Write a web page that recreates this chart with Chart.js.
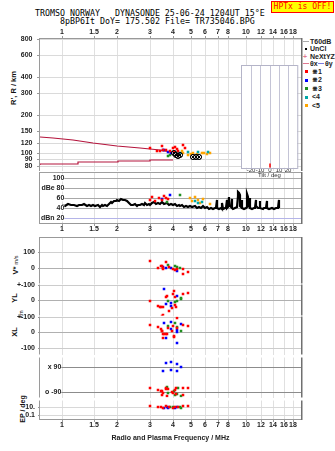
<!DOCTYPE html>
<html>
<head>
<meta charset="utf-8">
<title>TROMSO NORWAY DYNASONDE 25-06-24 1204UT</title>
<script src="https://cdn.jsdelivr.net/npm/chart.js@4.4.1/dist/chart.umd.min.js"></script>
<style>
html,body{margin:0;padding:0;background:#fff}
body{position:relative;width:335px;height:451px;overflow:hidden;font-family:"Liberation Sans",Arial,sans-serif;color:#111}
canvas{position:absolute;left:0}
.t{position:absolute;white-space:pre;line-height:1}
.mono{font-family:"DejaVu Sans Mono",monospace;font-size:8.3px;color:#000}
.rot{transform:translate(-50%,-50%) rotate(-90deg);font-weight:bold;font-size:7.5px;color:#111}
.lg{position:absolute;left:310px;height:8px;line-height:8px;font-size:7px;font-weight:bold;color:#222;white-space:pre}
.sq{position:absolute;left:305px;width:3px;height:3px}
.ln{position:absolute;height:1px}
</style>
</head>
<body>
<div class="t mono" style="left:35px;top:9px">TROMSO NORWAY   DYNASONDE 25-06-24 1204UT 15°E</div>
<div class="t mono" style="left:60px;top:16.5px">8pBP6It DoY= 175.502 File= TR735046.BPG</div>
<div class="t" style="left:271px;top:1px;width:61px;height:10px;line-height:10px;border:1px solid #ff0000;background:#ffff00;color:#ff0000;font-family:'DejaVu Sans Mono',monospace;font-size:8px;text-align:center">HPTx is OFF!</div>

<!-- legend -->
<div class="ln" style="left:303px;top:41px;width:6px;background:#aaaaaa"></div>
<div class="lg" style="top:37.5px">T60dB</div>
<div class="ln" style="left:305px;top:48px;width:1.5px;height:1.5px;background:#000"></div>
<div class="lg" style="top:45px">UnCl</div>
<div class="t" style="left:303px;top:52.5px;font-size:7px;font-weight:bold;color:#e07890">+</div>
<div class="lg" style="top:52.5px">NeXtYZ</div>
<div class="ln" style="left:303px;top:63px;width:6px;background:#e07890"></div>
<div class="lg" style="top:59.5px">θx</div>
<div class="ln" style="left:318px;top:63px;width:6px;background:#7a7ae0"></div>
<div class="lg" style="top:59.5px;left:325px">θy</div>
<div class="sq" style="top:70px;background:#ff0000"></div>
<div class="lg" style="top:67.5px;left:312px">⋇1</div>
<div class="sq" style="top:78.5px;background:#0000ff"></div>
<div class="lg" style="top:76px;left:312px">⋇2</div>
<div class="sq" style="top:87px;background:#1f8f1f"></div>
<div class="lg" style="top:84.5px;left:312px">⋇3</div>
<div class="sq" style="top:95.5px;background:#00a8a8"></div>
<div class="lg" style="top:93px;left:312px">&lt;4</div>
<div class="sq" style="top:104px;background:#ffa500"></div>
<div class="lg" style="top:101.5px;left:312px">&lt;5</div>

<!-- axis titles -->
<div class="t rot" style="left:14px;top:88px">R', R / km</div>
<div class="t rot" style="left:15.5px;top:265px">V* <span style="font-size:5.5px;font-weight:normal">m/s</span></div>
<div class="t rot" style="left:15px;top:298px">YL</div>
<div class="t rot" style="left:21.5px;top:314px;font-size:5.5px;font-weight:normal">km</div>
<div class="t rot" style="left:15px;top:332px">XL</div>
<div class="t" style="left:43px;top:376px;font-size:7px;font-weight:bold;color:#222">PP</div>
<div class="t rot" style="left:22px;top:409px;font-size:7px">EP / deg</div>

<script>
// ---- frequency axis (MHz, log) ----
const freqTicks = [1, 1.5, 2, 3, 4, 5, 6, 7, 8, 10, 12, 14, 16, 18];
const freqTickLabels = ['1', '1.5', '2', '3', '4', '5', '6', '7', '8', '10', '12', '14', '16', '18'];

// ---- virtual range panel (km) ----
const rangeTicks = [800, 600, 400, 300, 200, 150, 120, 100, 90, 80];
const rangeTickLabels = ['800', '600', '400', '300', '200', '150', '120', '100', '90', '80'];
const upperTrace = [[0.76, 134.5], [0.89, 132], [1.15, 126.5], [1.47, 120.7], [2.0, 115], [2.65, 109.6], [3.41, 105.7], [3.86, 102.4]];
const lowerTrace = [[0.76, 81.4], [1.22, 82.8], [2.02, 84.9], [3.01, 86.9], [3.54, 88], [4.0, 88]];
const rangeRed = [[3.01, 111], [3.30, 105], [3.40, 104], [3.48, 113.6], [3.55, 106], [3.67, 105.8], [3.85, 104], [4.00, 110.4], [4.05, 102], [4.11, 112.5], [4.20, 109], [4.29, 103.9], [4.53, 115.6], [4.66, 110.4]];
const rangeBlue = [[3.54, 107], [3.58, 105.6], [3.77, 102.8], [3.90, 101]];
const rangeGreen = [[3.75, 95.7], [3.85, 97]];
const rangeCyan = [[4.40, 100], [4.86, 101.5], [5.50, 101.5], [6.24, 101.5]];
const rangeOrange = [[4.47, 104.6], [4.56, 99.7], [4.86, 96.7], [5.00, 98], [5.17, 99.7], [5.40, 99], [5.75, 100.9], [5.90, 100], [6.11, 98.4], [6.37, 99.7]];
const rangeOmode = [[4.05, 101], [4.15, 97], [4.25, 95], [4.40, 97], [5.15, 94], [5.35, 93], [5.55, 94]];

// ---- amplitude panel (dB) ----
const dbTicks = [100, 80, 60, 40, 20];
const dbTickLabels = ['100', 'dBe 80', '60', '40', 'dBn 20'];
const noiseFreq = [1.00, 1.04, 1.08, 1.12, 1.16, 1.20, 1.24, 1.28, 1.32, 1.36, 1.40, 1.44, 1.48, 1.52, 1.56, 1.60, 1.64, 1.68, 1.72, 1.76, 1.80, 1.84, 1.88, 1.92, 1.96, 2.00, 2.05, 2.10, 2.15, 2.20, 2.25, 2.30, 2.36, 2.42, 2.48, 2.54, 2.60, 2.66, 2.72, 2.78, 2.84, 2.90, 2.96, 3.02, 3.10, 3.18, 3.26, 3.34, 3.42, 3.50, 3.60, 3.70, 3.80, 3.90, 4.00, 4.10, 4.20, 4.30, 4.40, 4.50, 4.62, 4.74, 4.86, 4.98, 5.10, 5.25, 5.40, 5.55, 5.70, 5.85, 6.00, 6.15, 6.30, 6.45,
  6.60, 6.80, 6.88, 6.92, 6.96, 7.10, 7.30, 7.40, 7.44, 7.48, 7.70, 7.80, 7.84, 7.88, 8.00, 8.04, 8.10, 8.20, 8.30, 8.34, 8.40, 8.55, 8.75, 8.95, 9.00, 9.08, 9.15, 9.22, 9.28, 9.40, 9.46, 9.52, 9.70, 9.95, 10.10, 10.14, 10.22, 10.28, 10.45, 10.50, 10.56, 10.80, 11.10, 11.25, 11.30, 11.36, 11.60, 11.85, 11.90, 11.96, 12.30, 12.60, 12.90, 12.95, 13.02, 13.40, 13.80, 14.20, 14.60, 14.95, 15.02, 15.08];
const noiseLevel = [47, 45, 48, 46, 47, 44, 47, 46, 48, 45, 46, 44, 47, 45, 46, 43, 46, 44, 47, 45, 48, 53, 51, 55, 54, 57, 55, 58, 56, 57, 54, 51, 47, 46, 48, 45, 47, 46, 48, 47, 50, 47, 49, 46, 50, 52, 48, 51, 49, 52, 48, 50, 47, 49, 46, 48, 45, 47, 44, 46, 43, 45, 42, 44, 42, 44, 41, 43, 41, 44, 40, 42, 39, 40,
  39, 40, 40, 57, 40, 39, 40, 39, 50, 39, 40, 41, 56, 41, 42, 62, 44, 45, 42, 58, 41, 39, 40, 42, 64, 73, 70, 66, 45, 42, 56, 41, 39, 40, 42, 69, 63, 44, 42, 61, 41, 39, 40, 41, 57, 44, 40, 41, 55, 40, 39, 40, 40, 55, 41, 39, 40, 39, 40, 41, 57, 40];
const dbRed = [[3.02, 57], [3.10, 63], [3.22, 55], [3.37, 61], [3.50, 56], [3.59, 64], [3.66, 60], [3.75, 58]];
const dbBlue = [[3.48, 59], [3.86, 66]];
const dbGreen = [[3.70, 53], [4.38, 67]];
const dbCyan = [[5.28, 54], [5.50, 51], [5.77, 53]];
const dbOrange = [[4.96, 60], [5.10, 55], [5.25, 62], [5.45, 57], [5.60, 50], [5.83, 59], [6.37, 49]];

// ---- tilt inset (deg) ----
const tiltTicks = [-20, -10, 0, 10, 20];
const tiltMark = [[0, 0.02]];

// ---- Doppler velocity V* (m/s) ----
const vTicks = [100, 0];
const vTickLabels = ['100', '0'];
const vRed = [[3.01, 41], [3.34, 0], [3.45, 14], [3.48, 10], [3.52, -5], [3.55, 0], [3.67, 37], [3.83, 4], [4.02, -10], [4.11, -12], [4.23, -9], [4.53, -10], [4.53, -42], [4.82, -27]];
const vBlue = [[3.55, 6], [3.66, -4], [3.91, 0], [4.20, -21]];
const vGreen = [[3.77, 20], [4.11, 10], [4.20, 4], [4.38, -4]];

// ---- echo location YL (km) ----
const ylTicks = [100, 0];
const ylTickLabels = ['+-100', '0'];
const ylRed = [[3.01, -4], [3.34, -36], [3.40, -42], [3.44, -42], [3.50, -100], [3.52, -94], [3.66, 17], [3.70, 25], [3.82, -73], [3.94, -52], [4.02, 38], [4.06, 56], [4.11, 21], [4.11, -31], [4.16, -48], [4.53, 36], [4.82, 46], [3.52, -42]];
const ylBlue = [[3.59, 69], [3.66, -27], [3.91, -17], [3.91, -37], [4.20, 25]];
const ylGreen = [[3.77, -6], [4.11, -11], [4.20, -6], [4.41, 15], [4.41, 4]];

// ---- echo location XL (km) ----
const xlTicks = [100, 0, -100];
const xlTickLabels = ['+-100', '0', '-100'];
const xlRed = [[3.01, 45], [3.34, 31], [3.45, 19], [3.48, 8], [3.55, -14], [3.66, -11], [3.52, -36], [4.23, 90], [4.53, 44], [4.82, 40], [4.02, 40], [4.20, 27], [3.48, 10], [3.94, 6], [3.59, -12], [3.70, -12], [4.06, -23], [4.06, -29], [3.77, 23]];
const xlBlue = [[3.59, 58], [3.91, 65], [4.41, 52], [3.91, 19], [4.20, 12], [4.20, -2], [3.66, -36], [4.20, -69]];
const xlGreen = [[3.77, 37], [4.11, 58], [4.20, 33], [4.41, 6]];

// ---- polarization PP (deg) ----
const ppTicks = [90, -90];
const ppTickLabels = ['x 90', 'o -90'];
const ppBlue = [[3.67, 118], [3.55, 60], [3.91, 124], [4.20, 109], [4.41, 85], [4.20, 60], [3.91, 66]];
const ppRed = [[3.01, -62], [3.34, -79], [3.45, -86], [3.55, -97], [3.66, -64], [3.77, -73], [3.50, -115], [3.68, -69], [3.48, -86], [3.70, -122], [3.94, -90], [4.16, -62], [4.11, -79], [4.02, -101], [4.16, -111], [4.53, -62], [4.82, -64], [4.53, -118]];
const ppGreen = [[3.74, -57], [3.77, -101], [4.29, -62], [4.06, -86], [4.11, -118], [4.20, -111], [4.41, -122]];

// ---- EP (deg, log) ----
const epTicks = [10, 0.1];
const epTickLabels = ['10.', '0.1'];
const epRed = [[3.01, 17], [3.34, 12], [3.45, 8], [3.55, 6], [3.66, 14], [3.83, 10], [4.02, 7], [4.11, 12], [4.29, 9], [4.53, 16], [4.82, 17]];
const epBlue = [[3.60, 7], [3.70, 9], [3.77, 6], [4.20, 8], [4.11, 5]];
const epGreen = [[3.85, 10], [4.00, 8], [4.35, 9], [4.45, 6]];

// ---------------------------------------------------------------
const RED = '#ff0000', BLUE = '#0000ff', GREEN = '#1f8f1f', CYAN = '#00a8a8', ORANGE = '#ffa500', TRACE = '#b4143c';
const tickFont = {family: '"Liberation Sans", Arial, sans-serif', size: 7, weight: 'bold', lineHeight: 1};

const framePlugin = {
  id: 'frame',
  beforeDraw(chart, args, o) {
    if (!o.fill) return;
    const {ctx, chartArea: a} = chart;
    ctx.save(); ctx.fillStyle = o.fill;
    ctx.fillRect(a.left, a.top, a.right - a.left, a.bottom - a.top);
    ctx.restore();
  },
  beforeDatasetsDraw(chart, args, o) {
    if (!o.strip) return;
    const {ctx, chartArea: a} = chart;
    ctx.save(); ctx.fillStyle = '#fff';
    ctx.fillRect(a.left, a.top + 1, o.strip - a.left, a.bottom - a.top - 1);
    ctx.restore();
  },
  afterDraw(chart, args, o) {
    const {ctx, chartArea: a} = chart;
    const seg = (x1, y1, x2, y2, c, w) => {
      ctx.beginPath(); ctx.strokeStyle = c; ctx.lineWidth = w;
      ctx.moveTo(x1, y1); ctx.lineTo(x2, y2); ctx.stroke();
    };
    ctx.save();
    const L = Math.round(a.left) - 0.5, R = Math.round(a.right) + 0.5;
    const T = Math.round(a.top) - 0.5, B = Math.round(a.bottom) + 0.5;
    if (o.top) seg(L, T, R, T, o.topColor || '#999', 1);
    if (o.bottom) seg(L, B, R, B, o.bottomColor || '#999', 1);
    const y0 = o.top ? T - 0.5 : a.top, y1 = o.bottom ? B + 0.5 : a.bottom;
    seg(L, y0, L, y1, o.leftColor || '#9a9a9a', 1);
    seg(R + 0.25, y0, R + 0.25, y1, o.rightColor || '#707070', o.rightWidth || 1.5);
    ctx.restore();
  }
};

const pts = pairs => pairs.map(([x, y]) => ({x, y}));
function dots(pairs, color) {
  return {data: pts(pairs), backgroundColor: color, borderColor: color, borderWidth: 0, pointStyle: 'rect', pointRadius: 1.8, showLine: false};
}
function trace(pairs, color, width, stepped) {
  return {data: pts(pairs), borderColor: color, borderWidth: width, pointRadius: 0, showLine: true, stepped: stepped || false, fill: false, tension: 0};
}

function makePanel(o) {
  const cv = document.createElement('canvas');
  const h = o.bottom - o.top + o.padTop + o.padBottom;
  cv.width = 335; cv.height = h;
  cv.style.top = (o.top - o.padTop) + 'px';
  cv.style.width = '335px'; cv.style.height = h + 'px';
  document.body.appendChild(cv);
  const showX = o.xAxis === 'top' || o.xAxis === 'bottom';
  const xPos = o.xAxis === 'top' ? 'top' : 'bottom';
  const mirror = !!o.mirror;
  new Chart(cv, {
    type: 'scatter',
    data: {datasets: o.datasets},
    plugins: [framePlugin],
    options: {
      responsive: false, animation: false, devicePixelRatio: 1, events: [],
      layout: {padding: {left: 0, right: 34,
        top: (showX && xPos === 'top') ? 0 : o.padTop,
        bottom: (showX && xPos === 'bottom') ? 0 : o.padBottom}},
      plugins: {legend: {display: false}, tooltip: {enabled: false}, frame: o.frame},
      scales: {
        x: {
          type: 'logarithmic', position: xPos, min: 0.759, max: 19.9, alignToPixels: true,
          afterBuildTicks: s => { s.ticks = freqTicks.map(v => ({value: v})); },
          afterFit: s => { s.height = showX ? (xPos === 'top' ? o.padTop : o.padBottom) : 0; },
          grid: {color: '#e0e0e0', lineWidth: 1, drawTicks: showX, tickLength: 3, tickColor: '#9a9a9a'},
          border: {display: false},
          ticks: {display: showX, autoSkip: false, maxRotation: 0, minRotation: 0, padding: 0, font: tickFont, color: '#222',
            callback: (v, i) => freqTickLabels[i]},
          title: o.xTitle ? {display: true, text: o.xTitle, color: '#222',
            font: {family: '"Liberation Sans", Arial, sans-serif', size: 7, weight: 'bold', lineHeight: 1.2},
            padding: {top: 0, bottom: 8.8}} : {display: false}
        },
        y: Object.assign({
          position: 'left', alignToPixels: true,
          afterFit: s => { s.width = 40; },
          afterBuildTicks: s => { s.ticks = o.yTicks.map(v => ({value: v})); },
          border: {display: false},
          grid: {color: o.gridColor, lineWidth: 1, drawTicks: !mirror, tickLength: o.tickLen || 2, tickColor: '#9a9a9a'},
          ticks: {autoSkip: false, font: tickFont, color: '#222', padding: o.labelPad, mirror: mirror,
            crossAlign: mirror ? 'far' : 'near', z: mirror ? 1 : 0,
            showLabelBackdrop: mirror, backdropColor: '#fff', backdropPadding: 0,
            callback: (v, i) => o.yLabels[i]}
        }, o.y)
      }
    }
  });
}

// virtual range R', R
makePanel({
  top: 39, bottom: 173, padTop: 13, padBottom: 6, xAxis: 'top',
  y: {type: 'logarithmic', min: 72.4, max: 800},
  yTicks: rangeTicks, yLabels: rangeTickLabels, labelPad: 4.5, tickLen: 3,
  gridColor: '#dadada', frame: {top: true},
  datasets: [
    {data: pts(rangeOmode), pointStyle: 'crossRot', pointRadius: 2.6, borderColor: '#000', borderWidth: 1, backgroundColor: 'rgba(0,0,0,0)', showLine: false},
    {data: pts(rangeOmode), pointStyle: 'circle', pointRadius: 2.6, borderColor: '#000', borderWidth: 1, backgroundColor: 'rgba(0,0,0,0)', showLine: false},
    dots(rangeRed, RED), dots(rangeBlue, BLUE), dots(rangeGreen, GREEN),
    dots(rangeCyan, CYAN), dots(rangeOrange, ORANGE),
    trace(upperTrace, TRACE, 1.2), trace(lowerTrace, TRACE, 1.2, 'after')
  ]
});

// amplitude dBe / dBn
makePanel({
  top: 173, bottom: 223, padTop: 6, padBottom: 13, xAxis: 'bottom',
  y: {type: 'linear', min: 10, max: 110},
  yTicks: dbTicks, yLabels: dbTickLabels, labelPad: 1, mirror: true,
  gridColor: c => (c.tick && c.tick.value === 20) ? '#b4b4e8' : '#a8a8a8',
  frame: {top: true, bottom: true, topColor: '#a0a0a0', strip: 61},
  datasets: [
    dots(dbRed, RED), dots(dbBlue, BLUE), dots(dbGreen, GREEN), dots(dbCyan, CYAN), dots(dbOrange, ORANGE),
    trace(noiseFreq.map((f, i) => [f, noiseLevel[i]]), '#000', 2.2)
  ]
});

// V*
makePanel({
  top: 237, bottom: 284, padTop: 6, padBottom: 6, xAxis: 'none',
  y: {type: 'linear', min: -100, max: 194},
  yTicks: vTicks, yLabels: vTickLabels, labelPad: 3,
  gridColor: c => (c.tick && c.tick.value === 0) ? '#b0b0b0' : '#d0d0d0',
  frame: {top: true},
  datasets: [dots(vRed, RED), dots(vBlue, BLUE), dots(vGreen, GREEN)]
});

// YL
makePanel({
  top: 284, bottom: 316, padTop: 6, padBottom: 6, xAxis: 'none',
  y: {type: 'linear', min: -100, max: 100},
  yTicks: ylTicks, yLabels: ylTickLabels, labelPad: 3,
  gridColor: c => (c.tick && c.tick.value === 0) ? '#b0b0b0' : '#cccccc',
  frame: {},
  datasets: [dots(ylRed, RED), dots(ylBlue, BLUE), dots(ylGreen, GREEN)]
});

// XL
makePanel({
  top: 316, bottom: 355, padTop: 6, padBottom: 6, xAxis: 'none',
  y: {type: 'linear', min: -144, max: 100},
  yTicks: xlTicks, yLabels: xlTickLabels, labelPad: 3,
  gridColor: c => (c.tick && c.tick.value === 0) ? '#b0b0b0' : '#cccccc',
  frame: {},
  datasets: [dots(xlRed, RED), dots(xlBlue, BLUE), dots(xlGreen, GREEN)]
});

// PP
makePanel({
  top: 355, bottom: 400, padTop: 6, padBottom: 6, xAxis: 'none',
  y: {type: 'linear', min: -133, max: 156},
  yTicks: ppTicks, yLabels: ppTickLabels, labelPad: 5, mirror: true,
  gridColor: '#8c8c8c',
  frame: {strip: 61},
  datasets: [dots(ppRed, RED), dots(ppBlue, BLUE), dots(ppGreen, GREEN)]
});

// EP
makePanel({
  top: 400, bottom: 419, padTop: 6, padBottom: 32, xAxis: 'bottom',
  y: {type: 'logarithmic', min: 0.0109, max: 411},
  yTicks: epTicks, yLabels: epTickLabels, labelPad: 3,
  gridColor: '#d8d8d8',
  xTitle: 'Radio and Plasma Frequency / MHz',
  frame: {bottom: true},
  datasets: [dots(epRed, RED), dots(epBlue, BLUE), dots(epGreen, GREEN)]
});

// tilt inset
(function () {
  const cv = document.createElement('canvas');
  cv.width = 80; cv.height = 122;
  cv.style.left = '230px'; cv.style.top = '58px';
  cv.style.width = '80px'; cv.style.height = '122px';
  document.body.appendChild(cv);
  const small = {family: '"Liberation Sans", Arial, sans-serif', size: 6, lineHeight: 1};
  new Chart(cv, {
    type: 'scatter',
    data: {datasets: [{data: pts(tiltMark), pointStyle: 'line', rotation: 90, pointRadius: 2.2, borderColor: RED, borderWidth: 1.5, showLine: false}]},
    plugins: [framePlugin],
    options: {
      responsive: false, animation: false, devicePixelRatio: 1, events: [],
      layout: {padding: {left: 12, right: 13, top: 7.7, bottom: 0}},
      plugins: {legend: {display: false}, tooltip: {enabled: false},
        frame: {fill: '#fff', top: true, bottom: true, topColor: '#b4b4c8', bottomColor: '#b4b4c8', leftColor: '#b4b4c8', rightColor: '#b4b4c8', rightWidth: 1}},
      scales: {
        x: {type: 'linear', min: -30, max: 30, alignToPixels: true,
          afterBuildTicks: s => { s.ticks = tiltTicks.map(v => ({value: v})); },
          afterFit: s => { s.height = 12.3; },
          grid: {color: '#c4c4d6', drawTicks: false},
          border: {display: false},
          ticks: {autoSkip: false, maxRotation: 0, padding: 0, font: small, color: '#333'},
          title: {display: true, text: 'Tilt / deg', color: '#333', font: small, padding: {top: 0, bottom: 2}}},
        y: {display: false, min: 0, max: 1}
      }
    }
  });
})();
</script>
</body>
</html>
